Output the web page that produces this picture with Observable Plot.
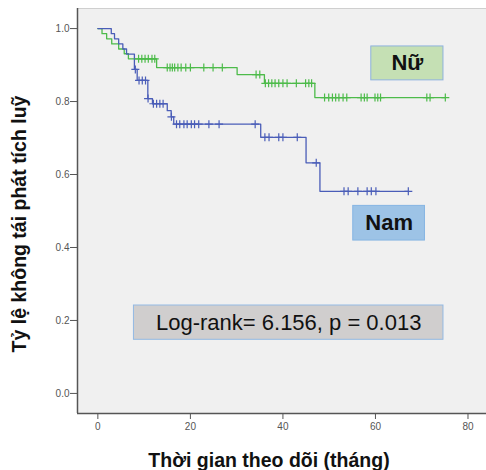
<!DOCTYPE html>
<html>
<head>
<meta charset="utf-8">
<script src="https://cdn.jsdelivr.net/npm/d3@7"></script>
<script src="https://cdn.jsdelivr.net/npm/@observablehq/plot@0.6"></script>
<style>
  html, body { margin: 0; padding: 0; background: #fff; }
  #chart svg { display: block; }
</style>
</head>
<body>
<div id="chart"></div>
<script>
// ---- data ----
const xTicks = [0, 20, 40, 60, 80];
const yTicks = [0.0, 0.2, 0.4, 0.6, 0.8, 1.0];

// Nữ (green)
const nuStepTimes = [0, 0.9, 1.9, 3.0, 4.5, 5.7, 6.6, 12.7, 30.1, 36.0, 46.9];
const nuStepSurv  = [1.0, 0.986, 0.972, 0.958, 0.944, 0.931, 0.917, 0.893, 0.874, 0.850, 0.811];
const nuCensor = [8.8, 9.5, 10.2, 10.9, 11.7, 12.3,
  15.0, 15.6, 16.1, 16.6, 17.3, 18.0, 19.0, 20.0, 22.9, 24.9, 26.9,
  34.2, 35.0,
  36.2, 36.9, 37.6, 38.3, 39.1, 40.0, 40.9, 42.9, 44.9, 45.6, 46.2,
  49.0, 49.9, 50.7, 51.4, 52.1, 53.0, 53.8, 56.9, 57.6, 58.2, 59.9, 60.5, 61.1, 71.1, 71.8, 75.1];

// Nam (blue)
const namStepTimes = [0, 2.9, 3.6, 4.5, 5.4, 6.2, 7.9, 8.5, 10.8, 11.8, 15.0, 15.85, 16.4, 35.2, 45.0, 48.0];
const namStepSurv  = [1.0, 0.986, 0.972, 0.958, 0.944, 0.930, 0.888, 0.858, 0.808, 0.794, 0.775, 0.758, 0.738, 0.702, 0.632, 0.554];
const namCensor = [8.1, 8.9, 9.6, 10.3, 10.85,
  12.0, 12.7, 13.4, 14.1, 15.9,
  17.0, 17.7, 18.6, 19.3, 20.2, 20.9, 21.8, 24.0, 26.2, 34.0,
  36.1, 37.0, 39.1, 40.0, 43.1,
  47.2,
  53.2, 54.1, 56.2, 58.2, 59.1, 60.1, 67.1];

const groups = ["Nữ", "Nam"];
const groupColors = ["#4dbb4a", "#4a5db8"];

const annoText = ["Nữ", "Nam", "Log-rank= 6.156, p = 0.013"];

// ---- build tables ----
function stepLine(times, surv, endT, group) {
  const pts = times.map((t, i) => ({t, s: surv[i], group}));
  pts.push({t: endT, s: surv[surv.length - 1], group});
  return pts;
}
function censorPts(times, surv, cens, group) {
  return cens.map(c => {
    let s = surv[0];
    for (let i = 0; i < times.length; i++) if (times[i] <= c) s = surv[i];
    return {t: c, s, group};
  });
}
const lines = [
  ...stepLine(nuStepTimes, nuStepSurv, d3.max(nuCensor), groups[0]),
  ...stepLine(namStepTimes, namStepSurv, d3.max(namCensor), groups[1])
];
const marks = [
  ...censorPts(nuStepTimes, nuStepSurv, nuCensor, groups[0]),
  ...censorPts(namStepTimes, namStepSurv, namCensor, groups[1])
];

// annotation boxes (placed in data space)
const groupBoxes = [
  {text: annoText[0], x1: 59.1, x2: 74.7, y1: 0.858, y2: 0.951, fill: "#c5e0b4", stroke: "#8fb2de"},
  {text: annoText[1], x1: 55.2, x2: 70.7, y1: 0.419, y2: 0.514, fill: "#9dc3e6", stroke: "#86b5e3"}
];
const statBoxes = [
  {text: annoText[2], x1: 7.8, x2: 74.7, y1: 0.147, y2: 0.241, fill: "#d0cece", stroke: "#93b9e3"}
];

const xDomain = [-4.4, 84];
const yDomain = [-0.055, 1.055];

const mid = (a, b) => d => (d[a] + d[b]) / 2;

const chart = Plot.plot({
  width: 486,
  height: 470,
  marginLeft: 77,
  marginTop: 8,
  marginRight: 0,
  marginBottom: 57,
  style: {fontFamily: "'Liberation Sans', Arial, sans-serif", background: "#fff"},
  x: {domain: xDomain},
  y: {domain: yDomain},
  color: {domain: groups, range: groupColors},
  marks: [
    Plot.frame({fill: "#f0f0f0", stroke: "#cfcfcf"}),
    Plot.ruleX([xDomain[0]], {stroke: "#555", strokeWidth: 1.5}),
    Plot.ruleY([yDomain[0]], {stroke: "#555", strokeWidth: 1.5}),
    Plot.axisY(yTicks, {tickFormat: d3.format(".1f"), tickSize: 7, tickPadding: 1, fontSize: 10, fill: "#555", stroke: "#555", label: null}),
    Plot.axisX(xTicks, {tickSize: 6, tickPadding: 3, fontSize: 10, fill: "#555", stroke: "#555", label: null}),
    Plot.line(lines, {x: "t", y: "s", z: "group", stroke: "group", curve: "step-after", strokeWidth: 1.3}),
    Plot.dot(marks, {x: "t", y: "s", stroke: "group", symbol: "plus", r: 2.7, strokeWidth: 1.2}),
    Plot.rect([...groupBoxes, ...statBoxes], {x1: "x1", x2: "x2", y1: "y1", y2: "y2", fill: "fill", stroke: "stroke", strokeWidth: 1}),
    Plot.text(groupBoxes, {x: mid("x1", "x2"), y: mid("y1", "y2"), text: "text", fontSize: 22, fontWeight: "bold", fill: "#111"}),
    Plot.text(statBoxes, {x: mid("x1", "x2"), y: mid("y1", "y2"), text: "text", fontSize: 22, fill: "#111"}),
    Plot.text(["Tỷ lệ không tái phát tích luỹ"], {frameAnchor: "left", textAnchor: "middle", rotate: -90, dx: -52, dy: 13, lineAnchor: "bottom", fontSize: 19.5, fontWeight: "bold", fill: "#111"}),
    Plot.text(["Thời gian theo dõi (tháng)"], {frameAnchor: "bottom", textAnchor: "middle", dx: -13, dy: 53, lineAnchor: "bottom", fontSize: 19.5, fontWeight: "bold", fill: "#111"})
  ]
});
document.getElementById("chart").appendChild(chart);
</script>
</body>
</html>
